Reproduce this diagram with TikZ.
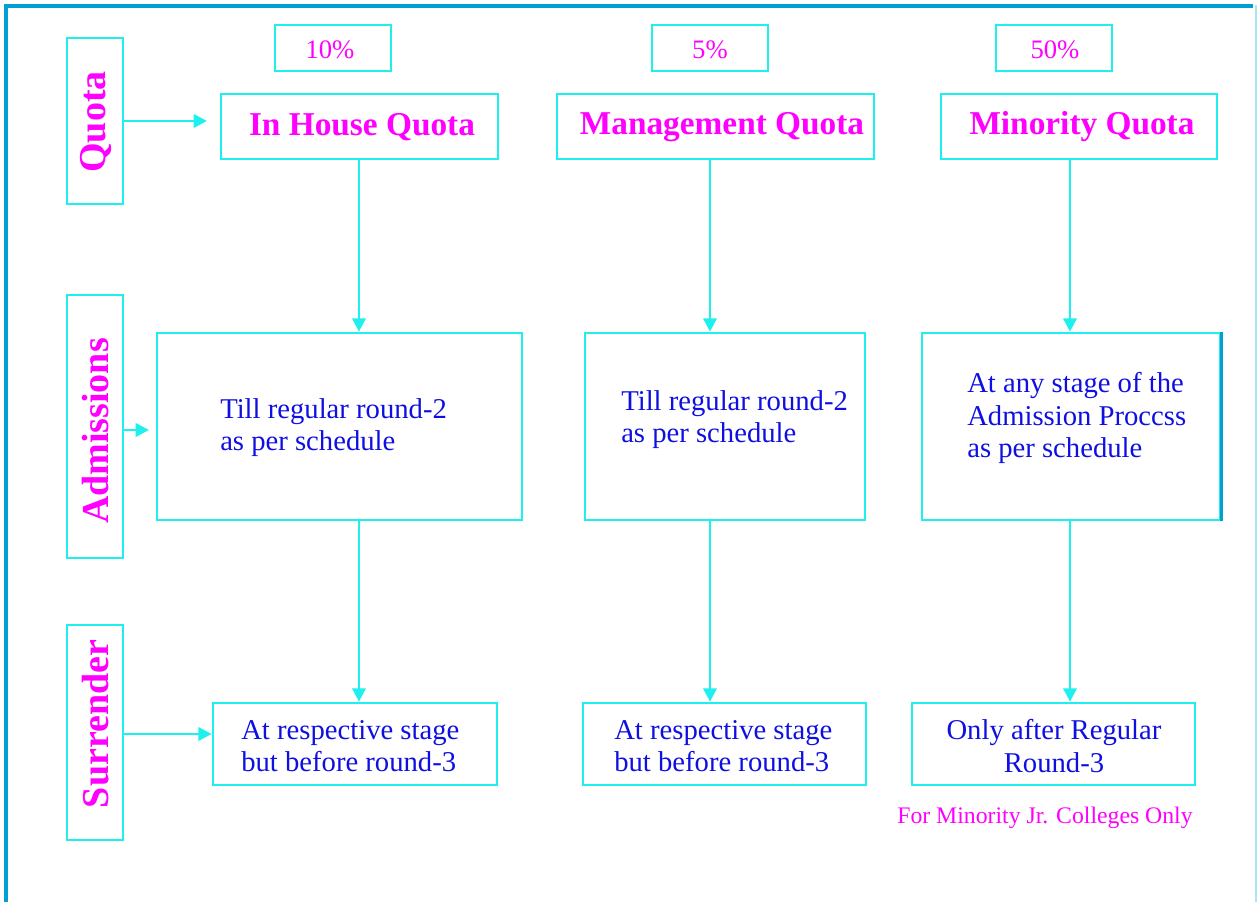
\documentclass[tikz,border=0pt]{standalone}
\usepackage{fontspec}
\setmainfont{Liberation Serif}
\usetikzlibrary{arrows.meta,fit}
\definecolor{cy}{RGB}{30,240,240}
\definecolor{mg}{RGB}{255,0,255}
\definecolor{bl}{RGB}{15,15,225}
\definecolor{fr}{RGB}{0,160,210}
\definecolor{frl}{RGB}{170,230,240}
\begin{document}
\begin{tikzpicture}[x=0.75pt,y=-0.75pt,
  box/.style={draw=cy, line width=2pt, inner sep=0pt},
  arr/.style={draw=cy, line width=2pt, -{Triangle[length=10pt,width=10pt]}},
  title/.style={text=mg, font=\bfseries\fontsize{25}{30}\selectfont, inner sep=0pt},
  side/.style={text=mg, font=\bfseries\fontsize{28.5}{34}\selectfont, rotate=90, inner sep=0pt},
  pct/.style={text=mg, font=\fontsize{20}{24}\selectfont, inner sep=0pt},
  body/.style={text=bl, font=\fontsize{21.5}{24.5}\selectfont, inner sep=0pt},
  note/.style={text=mg, font=\fontsize{17.8}{21}\selectfont, inner sep=0pt},
]
\useasboundingbox (0,0) rectangle (1258,902);
% frame
\draw[fr, line width=2.5pt] (6,902) -- (6,6) -- (1253,6);
\draw[frl, line width=1pt] (1256,5) -- (1256,902);

% side boxes
\node[box, fit={(67,38) (123,204)}] (sq) {};
\node[box, fit={(67,295) (123,558)}] (sa) {};
\node[box, fit={(67,625) (123,840)}] (ss) {};
\node[side] (sqt) at (96,122) {Quota};
\node[side] (sat) at (96,431) {Admissions};
\node[side] (sst) at (96,724) {Surrender};

% percentage boxes
\node[box, fit={(275,25) (391,71)}] (p1) {};
\node[box, fit={(652,25) (768,71)}] (p2) {};
\node[box, fit={(996,25) (1112,71)}] (p3) {};
\node[pct] (p1t) at (330,50) {10\%};
\node[pct] (p2t) at (710,50) {5\%};
\node[pct] (p3t) at (1055,50) {50\%};

% title boxes
\node[box, fit={(221,94) (498,159)}] (q1) {};
\node[box, fit={(557,94) (874,159)}] (q2) {};
\node[box, fit={(941,94) (1217,159)}] (q3) {};
\node[title] (q1t) at (362,127) {In House Quota};
\node[title] (q2t) at (722,127) {Management Quota};
\node[title] (q3t) at (1082,127) {Minority Quota};

% middle boxes
\node[box, fit={(157,333) (522,520)}] (a1) {};
\node[box, fit={(585,333) (865,520)}] (a2) {};
\node[box, fit={(922,333) (1220,520)}] (a3) {};
\draw[fr, line width=2pt] (a3.north east) -- (a3.south east);
\node[body, anchor=north west, align=left] (a1t) at (220,398) {Till regular round-2\\as per schedule};
\node[body, anchor=north west, align=left] (a2t) at (621,390) {Till regular round-2\\as per schedule};
\node[body, anchor=north west, align=left] (a3t) at (967,372) {At any stage of the\\Admission Proccss\\as per schedule};

% bottom boxes
\node[box, fit={(213,703) (497,785)}] (s1) {};
\node[box, fit={(583,703) (866,785)}] (s2) {};
\node[box, fit={(912,703) (1195,785)}] (s3) {};
\node[body, anchor=north west, align=left] (s1t) at (241,720) {At respective stage\\but before round-3};
\node[body, anchor=north west, align=left] (s2t) at (614,720) {At respective stage\\but before round-3};
\node[body, align=center] (s3t) at (1054,746) {Only after Regular\\Round-3};

\node[note] (nt) at (1045,818) {For Minority Jr. Colleges Only};

% column coordinates
\coordinate (c1) at (359,0);
\coordinate (c2) at (710,0);
\coordinate (c3) at (1070,0);
\coordinate (qend) at (207,121);
\coordinate (aend) at (149,430);

% arrows
\draw[arr] (q1.south -| c1) -- (a1.north -| c1);
\draw[arr] (q2.south -| c2) -- (a2.north -| c2);
\draw[arr] (q3.south -| c3) -- (a3.north -| c3);
\draw[arr] (a1.south -| c1) -- (s1.north -| c1);
\draw[arr] (a2.south -| c2) -- (s2.north -| c2);
\draw[arr] (a3.south -| c3) -- (s3.north -| c3);
\draw[arr] (sq.east |- qend) -- (qend);
\draw[arr] (sa.east |- aend) -- (aend);
\draw[arr] (ss.east |- 0,734) -- (s1.west |- 0,734);
\end{tikzpicture}
\end{document}
